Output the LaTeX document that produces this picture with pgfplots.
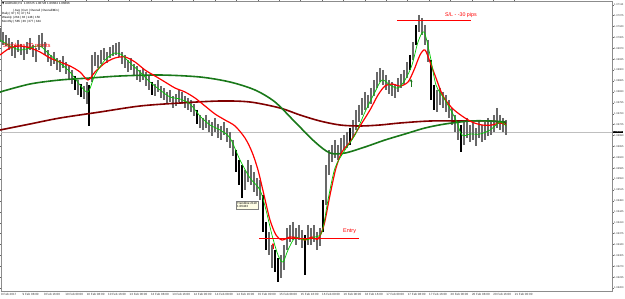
\documentclass[border=0pt]{standalone}
\usepackage{pgfplots}
\pgfplotsset{compat=1.18}
\usepackage{pgfplotstable}
\usetikzlibrary{arrows.meta}
\usepackage{fontspec}
\setmainfont{Liberation Sans}
\newfontfamily\djv{DejaVu Sans}
\definecolor{fastg}{RGB}{0,200,0}
\definecolor{slowg}{RGB}{25,120,25}
\definecolor{maroonc}{RGB}{128,0,0}
\definecolor{barg}{RGB}{105,105,105}

\pgfplotstableread{
x t b
0 28 42
3 32 45
6 35 46
9 38 50
12 42 56
15 45 58
18 40 52
21 44 55
24 47 60
27 42 54
30 38 50
33 45 57
36 48 62
39 35 50
42 33 47
45 42 55
48 50 62
51 55 66
54 52 64
57 58 70
60 60 72
63 56 68
66 62 74
69 66 80
72 70 84
75 76 90
78 80 95
81 84 97
84 86 99
87 82 104
89 85 126
92 55 82
95 52 66
98 55 68
101 50 64
104 48 60
107 52 63
110 47 58
113 45 56
116 43 55
119 42 57
122 52 64
125 55 68
128 60 72
131 58 70
134 64 76
137 66 80
140 70 82
143 68 80
146 72 86
149 76 90
152 82 95
155 84 96
158 80 92
161 86 98
164 88 100
167 92 104
170 90 102
173 96 108
176 94 106
179 90 102
182 92 104
185 96 108
188 98 110
191 100 112
194 104 116
197 110 124
200 115 128
203 118 130
206 115 128
209 120 132
212 122 136
215 118 132
218 124 138
221 126 140
224 122 135
227 128 142
230 132 148
233 140 156
236 150 172
239 160 185
242 165 198
245 170 190
248 160 182
251 165 185
254 172 192
257 178 196
260 180 200
263 195 232
266 222 250
269 232 255
272 245 268
275 250 272
278 258 282
281 255 278
284 245 270
287 228 250
290 225 242
293 222 240
296 228 245
299 225 240
302 230 248
305 235 275
308 225 245
311 228 245
314 225 242
317 232 250
320 228 246
323 200 232
326 165 205
329 150 175
332 145 162
335 140 158
338 145 160
341 138 155
344 135 150
347 132 148
350 128 145
353 120 138
356 110 130
359 105 122
362 98 115
365 92 110
368 95 108
371 88 104
374 80 96
377 72 88
380 68 82
383 70 85
386 75 90
389 80 94
392 82 96
395 84 98
398 78 92
401 74 88
404 70 84
407 62 78
410 55 70
413 42 60
416 25 45
419 15 32
422 18 35
425 25 45
428 40 62
431 60 100
434 85 110
437 90 112
440 88 105
443 92 108
446 95 112
449 100 118
452 108 125
455 115 132
458 120 140
461 125 152
464 122 145
467 118 138
470 125 142
473 122 140
476 128 146
479 120 138
482 125 142
485 122 140
488 118 136
491 120 135
494 115 132
497 108 128
500 115 130
503 118 132
506 120 135
}\bars

\pgfplotstableread{
x t b
75 76 90
81 84 97
89 85 126
152 82 95
197 110 124
236 150 172
239 160 185
242 165 198
263 195 232
266 222 250
275 250 272
278 258 282
305 235 275
323 200 232
350 128 145
410 55 70
416 25 45
431 60 100
434 85 110
461 125 152
}\blackbars

\begin{document}
\begin{tikzpicture}[x=1pt,y=1pt]
\path[use as bounding box] (0,0) rectangle (625,299);
\begin{axis}[
  at={(1pt,8pt)}, anchor=south west,
  scale only axis, width=611pt, height=290pt,
  xmin=1, xmax=612, ymin=1, ymax=291, y dir=reverse,
  clip=false,
  axis line style={draw=black!45, line width=0.5pt},
  tick align=outside, major tick length=1.5pt,
  tick style={black!60, line width=0.3pt},
  yticklabel pos=right,
  ytick={4.7,15.6,26.5,37.4,48.3,59.2,70.1,81.0,91.9,102.8,113.7,124.6,135.5,146.4,157.3,168.2,179.1,190.0,200.9,211.8,222.7,233.6,244.5,255.4,266.3,277.2,288.1},
  yticklabels={1.07110,1.07075,1.07040,1.07005,1.06970,1.06935,1.06900,1.06865,1.06830,1.06795,1.06760,1.06725,1.06690,1.06655,1.06620,1.06585,1.06550,1.06515,1.06480,1.06445,1.06410,1.06375,1.06340,1.06305,1.06270,1.06235,1.06200},
  yticklabel style={font=\fontsize{2.6}{3}\selectfont, inner sep=0.5pt, black!80},
  xtick={1,22.4,43.8,65.2,86.6,108,129.4,150.8,172.2,193.6,215,236.4,257.8,279.2,300.6,322,343.4,364.8,386.2,407.6,429,450.4,471.8,493.2,514.6},
  xticklabels={9 Feb 2017,9 Feb 08:00,9 Feb 16:00,10 Feb 00:00,10 Feb 08:00,10 Feb 16:00,13 Feb 00:00,13 Feb 08:00,13 Feb 16:00,14 Feb 00:00,14 Feb 08:00,14 Feb 16:00,15 Feb 00:00,15 Feb 08:00,15 Feb 16:00,16 Feb 00:00,16 Feb 08:00,16 Feb 16:00,17 Feb 00:00,17 Feb 08:00,17 Feb 16:00,20 Feb 00:00,20 Feb 08:00,20 Feb 16:00,21 Feb 00:00},
  xticklabel style={font=\fontsize{3}{3.5}\selectfont, anchor=north west, inner sep=0.5pt, xshift=-0.5pt, black!80},
]
% current price line
\addplot[black!25, line width=0.5pt] coordinates {(1,132) (612,132)};
% bars
\addplot[draw=none, mark=none, error bars/.cd, y dir=plus, y explicit, error mark=none,
  error bar style={line width=1.1pt, draw=barg}]
  table[x=x, y=t, y error plus expr=\thisrow{b}-\thisrow{t}] {\bars};
\addplot[draw=none, mark=none, error bars/.cd, y dir=plus, y explicit, error mark=none,
  error bar style={line width=1.1pt, draw=black}]
  table[x=x, y=t, y error plus expr=\thisrow{b}-\thisrow{t}] {\blackbars};
% maroon slow MA
\addplot[maroonc, line width=1.6pt, smooth] coordinates {(0,130) (30,124) (60,118) (100,112) (140,106) (180,103) (220,101) (250,102) (280,108) (300,115) (320,121) (340,125) (360,126) (380,125) (400,123) (430,121) (460,121) (490,121) (506,123)};
% dark green MA
\addplot[slowg, line width=1.6pt, smooth] coordinates {(0,92) (30,84) (60,80) (90,78) (120,76) (160,75) (200,77) (230,82) (255,90) (275,102) (295,122) (315,142) (330,153) (345,153) (365,147) (385,140) (405,134) (425,128) (445,124) (470,121) (490,121) (506,122)};
% red MA
\addplot[red, line width=1.2pt, smooth] coordinates {(0,55) (10,48) (20,46) (30,48) (40,52) (50,58) (60,62) (70,66) (80,72) (88,80) (95,72) (105,63) (115,58) (125,57) (135,62) (145,70) (155,76) (165,82) (175,88) (185,92) (195,98) (205,106) (215,114) (225,120) (235,126) (245,138) (252,152) (258,170) (264,195) (270,220) (276,235) (282,240) (290,237) (298,238) (305,240) (312,237) (318,239) (324,225) (330,195) (336,168) (342,152) (350,142) (360,126) (370,110) (378,95) (385,86) (392,84) (400,86) (408,82) (414,70) (420,55) (425,50) (430,62) (436,78) (443,96) (452,108) (462,116) (472,122) (482,125) (492,125) (500,123) (506,125)};
% fast green MA
\addplot[fastg, line width=0.7pt, smooth] coordinates {(0,40) (10,46) (20,50) (30,48) (40,46) (50,55) (60,63) (70,72) (80,85) (88,92) (95,75) (105,60) (115,53) (122,55) (130,63) (140,72) (150,82) (160,90) (170,97) (180,99) (190,104) (200,116) (210,125) (220,130) (230,138) (240,160) (250,178) (260,190) (266,210) (272,235) (278,255) (283,262) (288,250) (295,238) (305,240) (315,237) (322,232) (328,200) (335,168) (345,150) (355,135) (365,112) (375,92) (382,80) (390,85) (398,88) (405,80) (412,65) (418,42) (424,32) (430,55) (436,85) (445,100) (455,118) (462,135) (470,134) (480,134) (490,130) (500,122) (506,126)};
% annotation lines
\addplot[red, line width=0.8pt] coordinates {(259,238) (359,238)};
\addplot[red, line width=0.8pt] coordinates {(397,20.5) (471,20.5)};
% arrows
\addplot[quiver={u=0,v=-8}, -{Stealth[length=3pt,width=3pt]}, slowg, line width=1pt] coordinates {(411,87)};
\addplot[quiver={u=0,v=-6}, -{Stealth[length=2.5pt,width=2.5pt]}, red, line width=0.9pt] coordinates {(273,249)};
% texts
\node[anchor=west, red, font=\fontsize{5.8}{6}\selectfont, inner sep=0pt] at (axis cs:3,46) {Stoploss 30 points};
\node[anchor=west, red, font=\fontsize{5.3}{6}\selectfont, inner sep=0pt] at (axis cs:445,15.5) {S/L - -30 pips};
\node[anchor=west, red, font=\fontsize{5.5}{6}\selectfont, inner sep=0pt] at (axis cs:343,231.5) {Entry};
\node[anchor=north west, draw=black!50, fill=yellow!10, font=\fontsize{3}{3.6}\selectfont, align=left, inner sep=1pt] at (axis cs:236,201) {Trendline 2110\\1.06433};
\node[anchor=north west, font=\fontsize{3}{3.6}\selectfont, inner sep=0pt, align=left] at (axis cs:2,2) {{\djv ▼}\,AUDNZD,H1\ \ 1.06725 1.06728 1.06664 1.06696};
\node[anchor=north west, font=\fontsize{3}{3.6}\selectfont, inner sep=0pt, align=left] at (axis cs:13,9) {| Avg | Curr | Overall | Overall/Min |};
\node[anchor=north west, font=\fontsize{3}{3.6}\selectfont, inner sep=0pt, align=left] at (axis cs:2,12.5) {Daily | 97 | 6 | 47 | 51\\Weekly | 264 | 36 | 148 | 150\\Monthly | 585 | 36 | 377 | 344};
\node[anchor=west, fill=black, text=white, font=\fontsize{2.6}{3}\selectfont, inner sep=0.5pt] at (axis cs:612.5,132) {1.06696};
\end{axis}
\end{tikzpicture}
\end{document}
